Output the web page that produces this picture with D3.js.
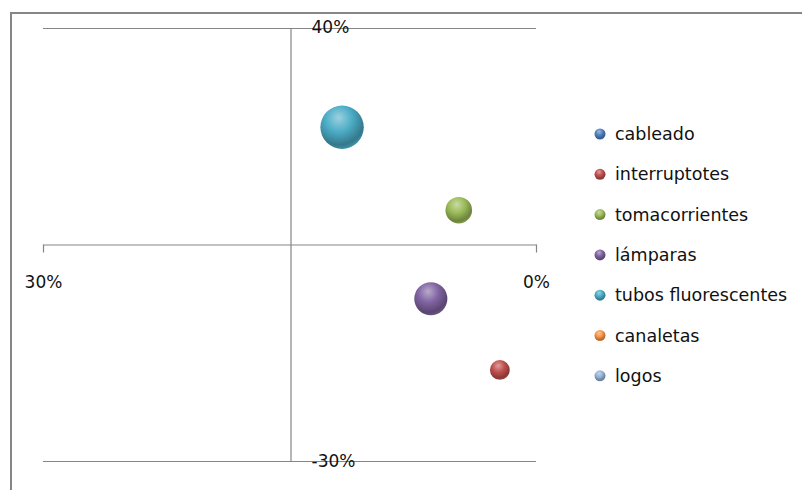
<!DOCTYPE html>
<html>
<head>
<meta charset="utf-8">
<script src="https://cdn.jsdelivr.net/npm/d3@7"></script>
<style>
  body { margin: 0; background: #fff; }
  svg { display: block; }
</style>
</head>
<body>
<svg width="802" height="490"></svg>
<script>
const categories = ['cableado', 'interruptotes', 'tomacorrientes', 'lámparas', 'tubos fluorescentes', 'canaletas', 'logos']
const xValues = [null, 0.022, 0.047, 0.064, 0.118, null, null]
const yValues = [null, -0.153, 0.105, -0.038, 0.239, null, null]
const sizes = [null, 5, 9, 14, 24, null, null]
const xTicks = [0.3, 0]
const yTicks = [0.4, -0.3]

const colors = ['#4f81bd', '#c0504d', '#9bbb59', '#8064a2', '#4bacc6', '#f79646', '#95b3d7']
const lineColor = '#868686'

const svg = d3.select('svg')

const x = d3.scaleLinear().domain([0.3, 0]).range([43, 536])
const y = d3.scaleLinear().domain([0.4, -0.3]).range([27.5, 461])
const r = d3.scaleSqrt().domain([0, 24]).range([0, 21.7])
// plain hyphen for negatives, like the original
const pct = d3.formatLocale({ decimal: '.', thousands: ',', grouping: [3], currency: ['$', ''], minus: '-' }).format('.0%')

// sphere gradients
const defs = svg.append('defs')
colors.forEach((c, i) => {
  const g = defs.append('radialGradient')
    .attr('id', 'ball' + i)
    .attr('cx', '42%').attr('cy', '32%').attr('r', '70%')
    .attr('fx', '42%').attr('fy', '28%')
  g.append('stop').attr('offset', '0%').attr('stop-color', d3.interpolateRgb(c, '#fff')(0.45))
  g.append('stop').attr('offset', '45%').attr('stop-color', c)
  g.append('stop').attr('offset', '85%').attr('stop-color', d3.interpolateRgb(c, '#000')(0.3))
  g.append('stop').attr('offset', '100%').attr('stop-color', d3.interpolateRgb(c, '#000')(0.15))
})

// outer chart border (cut off at right and bottom)
svg.append('rect')
  .attr('x', 11).attr('y', 13)
  .attr('width', 820).attr('height', 500)
  .attr('fill', 'none')
  .attr('stroke', lineColor)
  .attr('stroke-width', 2)

// horizontal gridlines
svg.append('g')
  .selectAll('line')
  .data(yTicks)
  .join('line')
  .attr('x1', x(0.3)).attr('x2', x(0))
  .attr('y1', d => Math.round(y(d)) + 0.5).attr('y2', d => Math.round(y(d)) + 0.5)
  .attr('stroke', lineColor)

// x axis, crossing at 5%
svg.append('g')
  .attr('transform', `translate(0,${Math.round(y(0.05)) + 0.5})`)
  .call(d3.axisBottom(x).tickValues(xTicks).tickFormat(pct).tickSize(8).tickSizeOuter(0).tickPadding(23))
// y axis, crossing at 15%
svg.append('g')
  .attr('transform', `translate(${Math.round(x(0.15)) + 0.5},0)`)
  .call(d3.axisRight(y).tickValues(yTicks).tickFormat(pct).tickSize(0).tickSizeOuter(0).tickPadding(21))

svg.selectAll('.domain, .tick line').attr('stroke', lineColor).attr('stroke-width', 1.2)
svg.selectAll('.tick text')
  .attr('font-family', 'DejaVu Sans, sans-serif')
  .attr('font-size', 17)
  .attr('fill', '#111')

// bubbles, largest first
const bubbles = categories
  .map((name, i) => ({ name, i, x: xValues[i], y: yValues[i], size: sizes[i] }))
  .filter(d => d.x != null)
  .sort((a, b) => b.size - a.size)

svg.append('g')
  .selectAll('circle')
  .data(bubbles)
  .join('circle')
  .attr('cx', d => x(d.x))
  .attr('cy', d => y(d.y))
  .attr('r', d => r(d.size))
  .attr('fill', d => `url(#ball${d.i})`)

// legend
const legend = svg.append('g')
  .selectAll('g')
  .data(categories)
  .join('g')
  .attr('transform', (d, i) => `translate(600,${134 + i * 40.3})`)

legend.append('circle')
  .attr('r', 5.5)
  .attr('fill', (d, i) => `url(#ball${i})`)

legend.append('text')
  .attr('x', 15)
  .attr('dy', '0.35em')
  .attr('font-family', 'DejaVu Sans, sans-serif')
  .attr('font-size', 17.5)
  .attr('fill', '#111')
  .text(d => d)
</script>
</body>
</html>
